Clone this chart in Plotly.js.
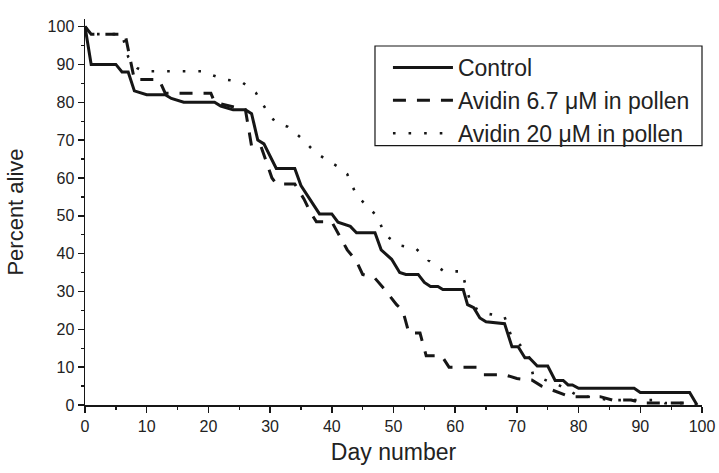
<!DOCTYPE html>
<html>
<head>
<meta charset="utf-8">
<script src="https://cdn.plot.ly/plotly-3.0.1.min.js"></script>
<style>html,body{margin:0;padding:0;background:#fff;}#chart{width:719px;height:473px;}</style>
</head>
<body>
<div id="chart"></div>
<script>
// ---- data ----
var seriesNames = ["Control", "Avidin 6.7 \u03bcM in pollen", "Avidin 20 \u03bcM in pollen"];

var controlDays = [0,1,5,6,7,8,10,13,14,16,21,22,24,26,27,28,29,31,34,35,38,40,41,43,44,47,48,49.7,51,52,54,55,56,57.2,58,61.3,62,63,64,65,68,69.2,70.2,71.3,72,73.3,75,76.2,77.5,78.3,79,80,89,90,98,99.2];
var controlAlive = [100,90,90,88,88,83,82,82,81,80,80,79,78,78,77,70,69,62.5,62.5,58,50.5,50.5,48.3,47.2,45.5,45.5,41,38.5,35,34.5,34.5,32.4,31.3,31.3,30.5,30.5,26.5,25.7,23,22,21.5,15.4,15.4,12.5,12.5,10.3,10.3,6.5,6.5,5.3,5.3,4.4,4.4,3.3,3.3,0];

var avidin67Days = [0,1,6.5,8,12,13,20.4,21,26,27,28.5,30.3,31,34,35.5,36.5,37.5,40,42.5,44,45,47,48.6,50.5,51.5,52.5,54.3,55.3,57.8,59,63.5,64.5,68,70,71,72.4,74,76.6,78.6,83.5,85.5,88.5,90.5,98,99];
var avidin67Alive = [100,98,98,86,86,82.4,82.4,80,78,68.4,68.4,60,58.4,58.4,54.4,51,48.4,48.4,41,38,34.5,33.5,30.5,26.5,25,19,19,13,13,10,10,8,8,7,6.8,6.6,5,3.5,2.2,2.2,1.3,1.3,0.5,0.5,0];

var avidin20Days = [0,1,6,7,8.5,9.5,19,20,22.7,25.4,27.7,29.3,30.8,32.9,35,37.3,39.4,41,42.5,43.3,44,45.9,47.5,48.5,50.9,53.6,55.6,58.2,61.1,61.8,62.7,65.3,68,69,70.6,72,72.6,74.9,76,79.6,85,93,94,97,98];
var avidin20Alive = [100,98,98,92,89,88.2,88.2,87.5,86,85.4,82.5,78.2,74.8,73.5,70.6,66.8,64.5,63,61,58,55.4,52.3,49.6,45.1,42.2,41.4,38.3,35.3,35.3,30.8,26,24.1,23.3,18.6,15.7,12.5,8,6.4,6,2.7,1.3,1.3,0.5,0.5,0];

var xTickVals = [0,10,20,30,40,50,60,70,80,90,100];
var xTickText = ["0","10","20","30","40","50","60","70","80","90","100"];
var yTickVals = [0,10,20,30,40,50,60,70,80,90,100];
var yTickText = ["0","10","20","30","40","50","60","70","80","90","100"];

// ---- chart ----
var ink = "#161616";
var fontFam = "Liberation Sans, Arial, Helvetica, sans-serif";

var traces = [
  {x: controlDays, y: controlAlive, name: seriesNames[0], mode: "lines",
   line: {color: ink, width: 3, dash: "solid"}},
  {x: avidin67Days, y: avidin67Alive, name: seriesNames[1], mode: "lines",
   line: {color: ink, width: 3, dash: "13px,11px"}},
  {x: avidin20Days, y: avidin20Alive, name: seriesNames[2], mode: "lines",
   line: {color: ink, width: 2.6, dash: "2.6px,13px"}}
];

var axisCommon = {
  showgrid: false, zeroline: false, showline: true, linecolor: ink, linewidth: 1.5,
  ticks: "outside", ticklen: 6, tickwidth: 1.5, tickcolor: ink,
  tickfont: {family: fontFam, size: 16, color: "#222"},
  minor: {dtick: 5, ticks: "outside", ticklen: 3, tickwidth: 1.3, tickcolor: ink},
  mirror: false
};

var layout = {
  width: 719, height: 473,
  margin: {l: 85, r: 17, t: 19, b: 68},
  paper_bgcolor: "#fff", plot_bgcolor: "#fff",
  font: {family: fontFam, color: "#222"},
  showlegend: true,
  xaxis: Object.assign({}, axisCommon, {
    range: [0, 100], tickmode: "array", tickvals: xTickVals, ticktext: xTickText,
    title: {text: "Day number", font: {family: fontFam, size: 23, color: "#222"}, standoff: 10}
  }),
  yaxis: Object.assign({}, axisCommon, {
    range: [0, 102], tickmode: "array", tickvals: yTickVals, ticktext: yTickText,
    title: {text: "Percent alive", font: {family: fontFam, size: 22, color: "#222"}, standoff: 18}
  }),
  legend: {
    x: 0.491, y: 0.93, xanchor: "left", yanchor: "top",
    bgcolor: "rgba(0,0,0,0)", borderwidth: 0,
    font: {family: fontFam, size: 23, color: "#222"},
    itemwidth: 60, tracegroupgap: 0
  },
  shapes: [
    {type: "rect", xref: "paper", yref: "paper", x0: 0.470, x1: 1.0, y0: 0.672, y1: 0.930,
     line: {color: ink, width: 1.2}, fillcolor: "#fff", layer: "above"}
  ]
};

Plotly.newPlot("chart", traces, layout, {staticPlot: true, displayModeBar: false});
</script>
</body>
</html>
